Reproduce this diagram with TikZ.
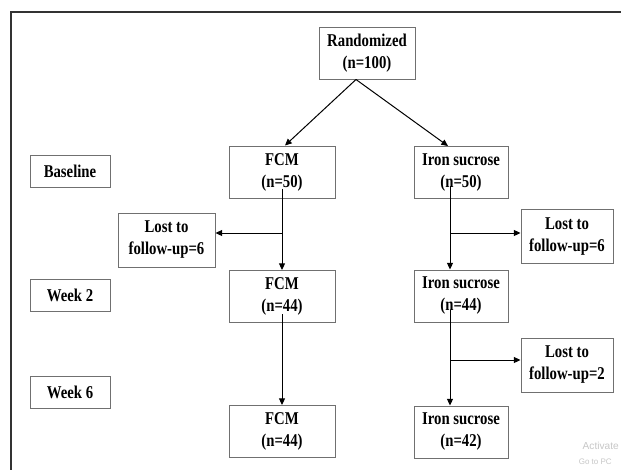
\documentclass[tikz,border=0pt]{standalone}
\usepackage{fontspec}
\setmainfont[FakeStretch=0.82]{Liberation Serif}
\newfontfamily\wmfont{Liberation Sans}
\usetikzlibrary{arrows.meta,calc}
\definecolor{boxgray}{HTML}{707070}
\definecolor{framegray}{HTML}{333333}
\begin{document}
\begin{tikzpicture}[x=0.75pt,y=-0.75pt,
  box/.style={draw=boxgray, line width=0.75pt, fill=white, align=center, inner sep=0pt,
    font=\fontsize{13.5}{16.5}\selectfont\bfseries},
  tall/.style={box, minimum height=39pt},
  short/.style={box, minimum height=24pt, minimum width=60pt},
  lost/.style={box, minimum height=40.5pt},
  arr/.style={draw=black, line width=0.75pt, -{Triangle[length=5pt,width=4.5pt]}},
  frame/.style={draw=framegray, line width=1.2pt},
  wm/.style={anchor=east, text=black!22, inner sep=0pt}]
\clip (0,0) rectangle (621,469);
\fill[white] (0,0) rectangle (621,469);
\draw[frame] (11,470) -- (11,12) -- (622,12);

% nodes
\node[tall, minimum width=72pt]   (rand)  at (367,53)    {Randomized\\(n=100)};
\node[short]                      (base)  at (70,171)    {Baseline};
\node[tall, minimum width=79.5pt] (fcm1)  at (282,172)   {FCM\\(n=50)};
\node[tall, minimum width=70.5pt] (iron1) at (461,172.5) {Iron sucrose\\(n=50)};
\node[lost, minimum width=72.75pt](lostL) at (166.5,240) {Lost to\\follow-up=6};
\node[lost, minimum width=69pt]   (lostR) at (567,236.5) {Lost to\\follow-up=6};
\node[short]                      (wk2)   at (70,295)    {Week 2};
\node[tall, minimum width=79.5pt] (fcm2)  at (282,296.5) {FCM\\(n=44)};
\node[tall, minimum width=70.5pt] (iron2) at (461,296)   {Iron sucrose\\(n=44)};
\node[lost, minimum width=69pt]   (lost2) at (567,365)   {Lost to\\follow-up=2};
\node[short]                      (wk6)   at (70,392.5)  {Week 6};
\node[tall, minimum width=79.5pt] (fcm3)  at (282,431.5) {FCM\\(n=44)};
\node[tall, minimum width=70.5pt] (iron3) at (461,432)   {Iron sucrose\\(n=42)};

% connectors
\coordinate (apex) at ([xshift=-8.25pt]rand.south);
\draw[arr] (apex) -- ([xshift=2.25pt]fcm1.north);
\draw[arr] (apex) -- ([xshift=-9.75pt]iron1.north);

\coordinate (f1) at ([yshift=7.5pt]fcm1.south);
\coordinate (jL) at (282,233);
\draw[arr] (f1) -- (fcm2.north);
\draw[arr] (jL) -- (jL -| lostL.east);

\coordinate (f2) at ([yshift=6.75pt]fcm2.south);
\draw[arr] (f2) -- (fcm3.north);

\coordinate (i1) at (450,186);
\coordinate (jR) at (450,233);
\draw[arr] (i1) -- (i1 |- iron2.north);
\draw[arr] (jR) -- (jR -| lostR.west);

\coordinate (i2) at (450,310);
\coordinate (j2) at (450,360);
\draw[arr] (i2) -- (i2 |- iron3.north);
\draw[arr] (j2) -- (j2 -| lost2.west);

% screen watermark
\node[wm, font=\wmfont\fontsize{7.6}{8}\selectfont] (wm1) at (619,446) {Activate};
\node[wm, font=\wmfont\fontsize{6}{7}\selectfont] (wm2) at (612,462) {Go to PC};
\end{tikzpicture}
\end{document}
